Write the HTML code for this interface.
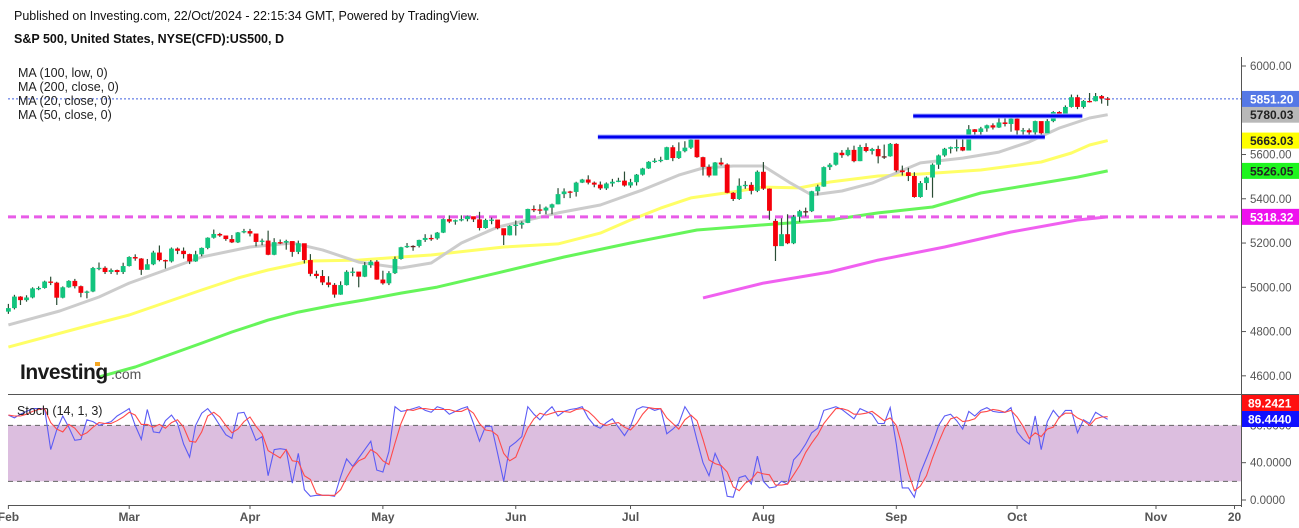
<!DOCTYPE html>
<html><head><meta charset="utf-8">
<style>
html,body{margin:0;padding:0;background:#fff;}
body{width:1299px;height:528px;overflow:hidden;position:relative;font-family:"Liberation Sans",Arial,sans-serif;}
.hdr{position:absolute;left:14px;font-size:12.5px;color:#111;white-space:nowrap;}
svg{position:absolute;left:0;top:0;}
</style></head>
<body>
<div class="hdr" style="top:9px">Published on Investing.com, 22/Oct/2024 - 22:15:34 GMT, Powered by TradingView.</div>
<div class="hdr" style="top:32px;font-weight:bold">S&amp;P 500, United States, NYSE(CFD):US500, D</div>
<svg id="chart" width="1299" height="528"></svg>
<script>
// ===== data =====
const openP=[4890,4906,4958,4942,4954,4995,4997,5026,5021,4953,5000,5029,5005,4975,4981,5087,5088,5069,5078,5069,
5096,5137,5130,5079,5104,5157,5123,5117,5175,5165,5150,5117,5149,5178,5224,5241,5234,5218,5203,5248,
5254,5243,5205,5211,5147,5204,5202,5209,5160,5199,5123,5061,5051,5022,5011,4967,5010,5070,5071,5048,5100,5116,
5035,5018,5064,5128,5181,5187,5187,5214,5223,5221,5247,5308,5297,5303,5308,5321,5307,5268,5304,5306,5267,5235,
5277,5283,5291,5354,5352,5347,5360,5375,5421,5433,5431,5473,5487,5473,5464,5447,5469,5477,5482,
5460,5475,5509,5537,5567,5572,5576,5633,5584,5615,5631,5667,5588,5544,5505,5564,5555,5427,5399,5459,5463,5436,
5522,5446,5300,5186,5240,5199,5319,5344,5344,5434,5455,5543,5554,5608,5597,5621,5570,5634,5616,5625,5592,5592,
5648,5528,5520,5503,5408,5471,5496,5554,5596,5626,5633,5634,5618,5714,5702,5718,5732,5722,5745,5738,
5762,5709,5710,5700,5751,5696,5751,5792,5780,5815,5859,5815,5842,5841,5864,5853];
const closeP=[4906,4958,4942,4954,4995,4997,5026,5021,4953,5000,5029,5005,4975,4981,5087,5088,5069,5078,5069,5096,
5137,5130,5079,5104,5157,5123,5117,5175,5165,5150,5117,5149,5178,5224,5241,5234,5218,5203,5248,5254,
5243,5205,5211,5147,5204,5202,5209,5160,5199,5123,5061,5051,5022,5011,4967,5010,5070,5071,5048,5100,5116,5035,
5018,5064,5128,5181,5187,5187,5214,5223,5221,5247,5308,5297,5303,5308,5321,5307,5268,5304,5306,5267,5235,5277,
5283,5291,5354,5352,5347,5360,5375,5421,5433,5431,5473,5487,5473,5464,5447,5469,5477,5482,5460,
5475,5509,5537,5567,5572,5576,5633,5584,5615,5631,5667,5588,5544,5505,5564,5555,5427,5399,5459,5463,5436,5522,
5446,5346,5186,5240,5199,5319,5344,5344,5434,5455,5543,5554,5608,5597,5621,5570,5634,5616,5625,5592,5592,5648,
5528,5520,5503,5408,5471,5496,5554,5596,5626,5633,5634,5618,5714,5702,5718,5732,5722,5745,5738,5762,
5709,5710,5700,5751,5696,5751,5792,5780,5815,5859,5815,5842,5841,5864,5853,5851];
const highP=[4925,4966,4960,4964,5000,5004,5030,5048,5025,5004,5032,5038,5008,4985,5092,5112,5095,5085,5080,5111,
5140,5149,5132,5128,5165,5189,5125,5180,5180,5180,5152,5165,5180,5226,5261,5246,5229,5236,5250,5264,
5264,5228,5220,5256,5222,5216,5215,5178,5211,5196,5150,5075,5078,5050,5019,5027,5077,5089,5058,5114,5123,5123,
5075,5073,5139,5183,5200,5190,5215,5240,5238,5250,5311,5325,5306,5325,5324,5315,5341,5310,5315,5290,5265,5280,
5302,5298,5355,5370,5375,5365,5378,5448,5447,5436,5477,5490,5506,5478,5478,5474,5490,5495,5523,
5490,5512,5540,5570,5583,5590,5635,5642,5655,5660,5670,5665,5590,5555,5566,5585,5560,5430,5492,5480,5475,5528,
5566,5447,5310,5312,5330,5327,5350,5360,5436,5464,5546,5561,5610,5620,5632,5640,5644,5651,5630,5640,5645,5652,
5651,5550,5540,5520,5480,5501,5560,5600,5630,5636,5670,5690,5733,5715,5725,5735,5741,5767,5764,5765,
5765,5720,5718,5753,5745,5760,5796,5796,5822,5871,5870,5846,5878,5878,5869,5860];
const lowP=[4880,4900,4920,4935,4950,4987,4994,5010,4920,4950,4998,4995,4955,4950,4978,5077,5060,5060,5057,5060,
5094,5120,5056,5092,5100,5117,5085,5112,5150,5130,5105,5115,5140,5172,5220,5228,5210,5200,5200,5244,
5230,5185,5190,5145,5145,5195,5170,5138,5150,5108,5050,5040,5010,5000,4953,4966,5008,5050,5000,5046,5088,5034,
5012,5010,5060,5125,5178,5165,5180,5205,5210,5215,5245,5290,5283,5298,5298,5295,5257,5265,5285,5262,5191,5234,
5234,5265,5290,5340,5331,5330,5330,5375,5403,5403,5410,5471,5465,5452,5440,5440,5455,5475,5455,
5450,5460,5505,5535,5562,5565,5575,5570,5580,5610,5625,5585,5505,5497,5505,5550,5425,5390,5395,5445,5420,5430,
5440,5305,5119,5193,5195,5195,5295,5320,5340,5415,5454,5530,5550,5585,5592,5565,5570,5610,5600,5560,5580,5590,
5520,5505,5480,5405,5405,5440,5405,5535,5590,5605,5614,5615,5680,5690,5680,5703,5713,5720,5727,5703,
5675,5690,5675,5690,5682,5700,5746,5765,5775,5812,5805,5808,5835,5840,5830,5820];
const ma20Idx=[0,8.5,15,20,32,40,47,52,58,65,70,75,81,91,98,105,111,115,120,125,129.5,133,138,143,151,158,164,169,174,179,182];
const ma20Val=[4830,4893,4956,5019,5137,5182,5200,5169,5114,5087,5110,5200,5272,5336,5372,5440,5507,5539,5548,5548,5471,5417,5435,5471,5562,5584,5611,5657,5720,5765,5780];
const ma50Idx=[0,13,20,32,38,43,50,58,65,70,82,91,98,103,108,113,120,125,131,136,144,151,161,171,176,179,182];
const ma50Val=[4730,4825,4875,4988,5042,5078,5119,5123,5137,5146,5182,5196,5245,5304,5358,5404,5431,5453,5449,5476,5503,5512,5530,5566,5607,5643,5663];
const ma100Idx=[15,21,32,37,43,48,54,59,65,71,81,92,103,114,125,136,144,153,161,169,177,182];
const ma100Val=[4595,4640,4748,4798,4852,4888,4920,4943,4974,5001,5065,5137,5200,5259,5282,5304,5336,5363,5426,5462,5498,5526];
const ma200Idx=[115,125,136,144,155,166,177,182];
const ma200Val=[4952,5019,5069,5123,5182,5250,5304,5318];
const stochK=[91,88,92,95,98,98,98,54,75,90,78,64,65,86,84,80,82,84,90,94,98,80,65,97,73,72,85,91,82,60,46,80,93,98,90,80,70,66,93,94,80,64,68,26,54,55,54,18,50,11,4,5,5,5,4,25,44,36,45,54,63,32,30,52,100,95,96,98,100,96,94,100,98,92,95,98,100,82,63,79,79,50,20,57,62,68,100,92,86,94,100,90,95,97,98,100,88,80,77,83,87,78,69,79,97,100,99,96,98,71,76,82,100,90,64,40,26,50,36,4,3,24,26,17,47,20,13,14,20,17,43,50,60,72,77,96,98,100,97,92,87,98,95,92,82,82,99,60,13,13,3,29,45,61,80,90,92,85,76,95,90,96,99,95,94,94,99,73,65,60,90,54,84,96,88,96,96,72,86,82,94,90,86.4440];
const stochD=[91,90,90,92,95,97,98,83,76,73,81,77,69,72,78,83,82,82,85,89,94,91,81,81,78,81,77,83,86,78,63,62,73,90,94,89,80,72,76,84,89,79,71,53,49,45,54,42,41,26,22,7,5,5,5,11,24,35,42,45,54,50,42,38,61,82,97,96,98,98,97,97,97,97,95,95,98,93,82,75,74,69,50,42,46,62,77,87,93,91,93,95,95,94,97,98,95,89,82,80,82,83,78,75,82,92,99,98,98,88,82,76,86,91,85,65,43,39,37,30,14,10,18,22,30,28,27,16,16,17,27,37,51,61,70,82,90,98,98,96,92,92,93,95,90,85,88,80,57,29,10,15,26,45,62,77,87,89,84,85,87,94,95,97,96,94,96,89,79,66,72,68,76,78,89,93,93,88,85,80,87,89,89.2421];
const priceTicks=[6000,5800,5600,5400,5200,5000,4800,4600];
const stochTicks=[80,40,0];
const monthLabels=["Feb","Mar","Apr","May","Jun","Jul","Aug","Sep","Oct","Nov","20"];
const monthIdx=[0,20,40,62,84,103,125,147,167,190,203];
const hLevels=[5679,5774];
const hFrom=[97.6,149.8];
const hTo=[171.6,177.8];
const supportLevel=5318.32;
const lastPrice=5851.20;

const X=i=>8.4+i*6.04;
const Y=p=>66+(6000-p)*0.2213;
const SY=s=>500-s*0.933;
const NS="http://www.w3.org/2000/svg";
const svg=document.getElementById('chart');
function mk(tag,attrs,parent){const e=document.createElementNS(NS,tag);for(const k in attrs)e.setAttribute(k,attrs[k]);(parent||svg).appendChild(e);return e;}

const defs=mk('defs',{});
const cp=mk('clipPath',{id:'mainclip'},defs);mk('rect',{x:0,y:57,width:1241,height:336},cp);
const cp2=mk('clipPath',{id:'stclip'},defs);mk('rect',{x:0,y:395,width:1241,height:110},cp2);
const gMain=mk('g',{'clip-path':'url(#mainclip)'});


const gSt=mk('g',{'clip-path':'url(#stclip)'});



const band=mk('rect',{x:8,y:SY(80),width:1233,height:SY(20)-SY(80),fill:'#dcbedf'},gSt);


[80,20].forEach(v=>{const l=mk('line',{x1:8,x2:1241,y1:SY(v),y2:SY(v),stroke:'#666','stroke-width':1,'stroke-dasharray':'5,4'},gSt);

});

function maLine(idx,val,color,w,name){
  const pts=idx.map((i,k)=>X(i).toFixed(1)+','+Y(val[k]).toFixed(1)).join(' ');
  const pl=mk('polyline',{points:pts,fill:'none',stroke:color,'stroke-width':w,'stroke-linejoin':'round'},gMain);
  
  
}
maLine(ma200Idx,ma200Val,'#f060f0',3,'ma200-line');
maLine(ma100Idx,ma100Val,'#66f55a',3,'ma100-line');
maLine(ma50Idx,ma50Val,'#ffff66',3,'ma50-line');
maLine(ma20Idx,ma20Val,'#cccccc',3,'ma20-line');

const sl=mk('line',{x1:8,x2:1241,y1:Y(supportLevel),y2:Y(supportLevel),stroke:'#e85ce8','stroke-width':3,'stroke-dasharray':'8,5'},gMain);


const lp=mk('line',{x1:8,x2:1241,y1:Y(lastPrice),y2:Y(lastPrice),stroke:'#4060e0','stroke-width':1,'stroke-dasharray':'2,2'},gMain);



for(let i=0;i<closeP.length;i++){
  const o=openP[i],c=closeP[i],x=X(i);
  const col=c>o?'#12c47e':(c<o?'#f5000a':'#6a1f1f');
  const w=mk('line',{x1:x,x2:x,y1:Y(highP[i]),y2:Y(lowP[i]),stroke:'#2a4d35','stroke-width':1.2},gMain);
  
  
  const top=Y(Math.max(o,c)),bot=Y(Math.min(o,c));
  const b=mk('rect',{x:x-2.4,y:top,width:4.8,height:Math.max(1.3,bot-top),fill:col},gMain);
  
  
}
hLevels.forEach((p,k)=>{
  const h1=mk('line',{x1:X(hFrom[k]),x2:X(hTo[k]),y1:Y(p),y2:Y(p),stroke:'#aab4ff','stroke-width':5},gMain);
  
  
  const h=mk('line',{x1:X(hFrom[k]),x2:X(hTo[k]),y1:Y(p),y2:Y(p),stroke:'#0000ee','stroke-width':3},gMain);
  
  
});

function stLine(arr,color,name){
  const pts=arr.map((v,i)=>X(i).toFixed(1)+','+SY(v).toFixed(1)).join(' ');
  const pl=mk('polyline',{points:pts,fill:'none',stroke:color,'stroke-width':1.1},gSt);
  
  
}
stLine(stochK,'#5c5cf5','stoch-k-line');
stLine(stochD,'#ff4a4a','stoch-d-line');

const f1=mk('line',{x1:1241.5,x2:1241.5,y1:57,y2:507,stroke:'#555','stroke-width':1});


const f2=mk('line',{x1:8,x2:1299,y1:394.5,y2:394.5,stroke:'#555','stroke-width':1});


const f3=mk('line',{x1:8,x2:1241,y1:505.5,y2:505.5,stroke:'#555','stroke-width':1});



priceTicks.forEach(p=>{
  const t=mk('line',{x1:1241,x2:1246,y1:Y(p),y2:Y(p),stroke:'#555'});
  
  
  const tx=mk('text',{x:1250,y:Y(p)+4,'font-size':11.5,fill:'#555','font-family':'Liberation Sans, Arial, sans-serif'});
  tx.textContent=p.toFixed(2);
  
  
});
stochTicks.forEach(v=>{
  const t=mk('line',{x1:1241,x2:1246,y1:SY(v),y2:SY(v),stroke:'#555'});
  
  
  const tx=mk('text',{x:1250,y:SY(v)+4,'font-size':11.5,fill:'#555','font-family':'Liberation Sans, Arial, sans-serif'});
  tx.textContent=v.toFixed(4);
  
  
});
const valLabels=[[ma20Val[ma20Val.length-1],'5780.03','#b8b8b8','#222'],[ma50Val[ma50Val.length-1],'5663.03','#ffff00','#222'],[ma100Val[ma100Val.length-1],'5526.05','#1ef51e','#222'],[supportLevel,'5318.32','#ee11ee','#fff'],[lastPrice,'5851.20','#5578e6','#fff']];
valLabels.forEach(v=>{
  const y=Y(v[0]);
  const r=mk('rect',{x:1242,y:y-8,width:57,height:16,fill:v[2]});
  
  
  const t=mk('text',{x:1250,y:y+4.5,'font-size':12,'font-weight':'bold',fill:v[3],'font-family':'Liberation Sans, Arial, sans-serif'});
  t.textContent=v[1];
  
  
});
[[stochD[stochD.length-1],'#ff1010'],[stochK[stochK.length-1],'#1010ff']].forEach((v,k)=>{
  const y=k===0?403:419;
  const r=mk('rect',{x:1242,y:y-8,width:57,height:16,fill:v[1]});
  
  
  const t=mk('text',{x:1248,y:y+4.5,'font-size':12,'font-weight':'bold',fill:'#fff','font-family':'Liberation Sans, Arial, sans-serif'});
  t.textContent=v[0].toFixed(4);
  
  
});
monthLabels.forEach((m,k)=>{
  const x=X(monthIdx[k]);
  const t=mk('line',{x1:x,x2:x,y1:505,y2:509,stroke:'#555'});
  
  
  const tx=mk('text',{x:x,y:521,'font-size':12,'font-weight':'bold',fill:'#555','text-anchor':'middle','font-family':'Liberation Sans, Arial, sans-serif'});
  tx.textContent=m;
  
  
});
['MA (100, low, 0)','MA (200, close, 0)','MA (20, close, 0)','MA (50, close, 0)'].forEach((s,k)=>{
  const t=mk('text',{x:18,y:77+k*14,'font-size':12.5,fill:'#222','font-family':'Liberation Sans, Arial, sans-serif'});
  t.textContent=s;
  
  
});
const stl=mk('text',{x:17,y:415,'font-size':12.5,fill:'#222','font-family':'Liberation Sans, Arial, sans-serif'});
stl.textContent='Stoch (14, 1, 3)';


const lg=mk('text',{x:20,y:379,'font-size':21,'font-weight':'bold',fill:'#1a1a1a','font-family':'Liberation Sans, Arial, sans-serif','letter-spacing':'-0.5'});
lg.textContent='Investing';


const lg2=mk('text',{x:111,y:379,'font-size':14,fill:'#555','font-family':'Liberation Sans, Arial, sans-serif'});
lg2.textContent='.com';


const dot=mk('rect',{x:95,y:362,width:5,height:4,fill:'#f5a623'});


</script>
</body></html>
